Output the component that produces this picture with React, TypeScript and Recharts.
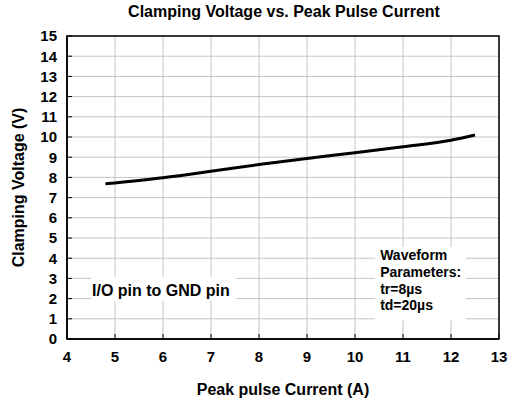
import { LineChart, Line, XAxis, YAxis, CartesianGrid, ReferenceArea, Label } from "recharts";

const currents = [4.8, 6, 7, 8, 9, 10, 11, 12, 12.5];
const voltages = [7.68, 7.98, 8.3, 8.64, 8.94, 9.22, 9.52, 9.84, 10.1];
const xTicks = [4, 5, 6, 7, 8, 9, 10, 11, 12, 13];
const yTicks = [0, 1, 2, 3, 4, 5, 6, 7, 8, 9, 10, 11, 12, 13, 14, 15];
const waveformLines = ["Waveform", "Parameters:", "tr=8\u00b5s", "td=20\u00b5s"];

const data = currents.map((c, i) => ({ current: c, voltage: voltages[i] }));

const FONT = '"Liberation Sans", Arial, sans-serif';
const tickStyle = { fontSize: 15, fontWeight: 700, fill: "#000", fontFamily: FONT };
const labelStyle = { fontSize: 16, fontWeight: 700, fill: "#000", fontFamily: FONT };

const WaveformText = ({ viewBox }: any) => {
  if (!viewBox) return null;
  return (
    <text fontFamily={FONT} fontSize={14} fontWeight={700} fill="#000">
      {waveformLines.map((t, i) => (
        <tspan key={t} x={viewBox.x + 5} y={viewBox.y + 13 + i * 16.8}>
          {t}
        </tspan>
      ))}
    </text>
  );
};

const PinText = ({ viewBox }: any) => {
  if (!viewBox) return null;
  return (
    <text x={viewBox.x + 1} y={viewBox.y + 19} fontFamily={FONT} fontSize={16} fontWeight={700} fill="#000">
      I/O pin to GND pin
    </text>
  );
};

export default function App() {
  return (
    <div style={{ position: "absolute", left: 0, top: 0, width: 518, height: 400, background: "#fff", fontFamily: FONT }}>
      <div style={{ position: "absolute", left: 0, width: 568, top: 3, textAlign: "center", fontSize: 16, fontWeight: 700 }}>
        Clamping Voltage vs. Peak Pulse Current
      </div>
      <LineChart width={518} height={400} data={data} margin={{ top: 36, right: 19, bottom: 0, left: 0 }}>
        <CartesianGrid stroke="#c4c4c4" strokeWidth={1} />
        <XAxis
          dataKey="current"
          type="number"
          domain={[4, 13]}
          ticks={xTicks}
          interval={0}
          tick={tickStyle}
          tickSize={-5}
          tickMargin={17}
          axisLine={{ stroke: "#000", strokeWidth: 1.5 }}
          tickLine={{ stroke: "#000" }}
          height={61}
        >
          <Label value="Peak pulse Current (A)" position="insideBottom" offset={5} style={labelStyle} />
        </XAxis>
        <YAxis
          type="number"
          domain={[0, 15]}
          ticks={yTicks}
          interval={0}
          tick={tickStyle}
          tickSize={-5}
          tickMargin={15}
          axisLine={{ stroke: "#000", strokeWidth: 1.5 }}
          tickLine={{ stroke: "#000" }}
          width={67}
        >
          <Label value="Clamping Voltage (V)" angle={-90} position="insideLeft" offset={18} style={{ ...labelStyle, textAnchor: "middle" }} />
        </YAxis>
        <ReferenceArea x1={4} x2={13} y1={0} y2={15} fill="none" stroke="#000" strokeWidth={1.5} ifOverflow="visible" />
        <ReferenceArea x1={4.5} x2={7.52} y1={1.88} y2={3.07} fill="#fff" fillOpacity={1} stroke="none" label={<PinText />} />
        <ReferenceArea x1={10.42} x2={12.31} y1={0.94} y2={4.55} fill="#fff" fillOpacity={1} stroke="none" label={<WaveformText />} />
        <Line
          dataKey="voltage"
          type="monotone"
          stroke="#000"
          strokeWidth={3}
          dot={false}
          isAnimationActive={false}
        />
      </LineChart>
    </div>
  );
}
